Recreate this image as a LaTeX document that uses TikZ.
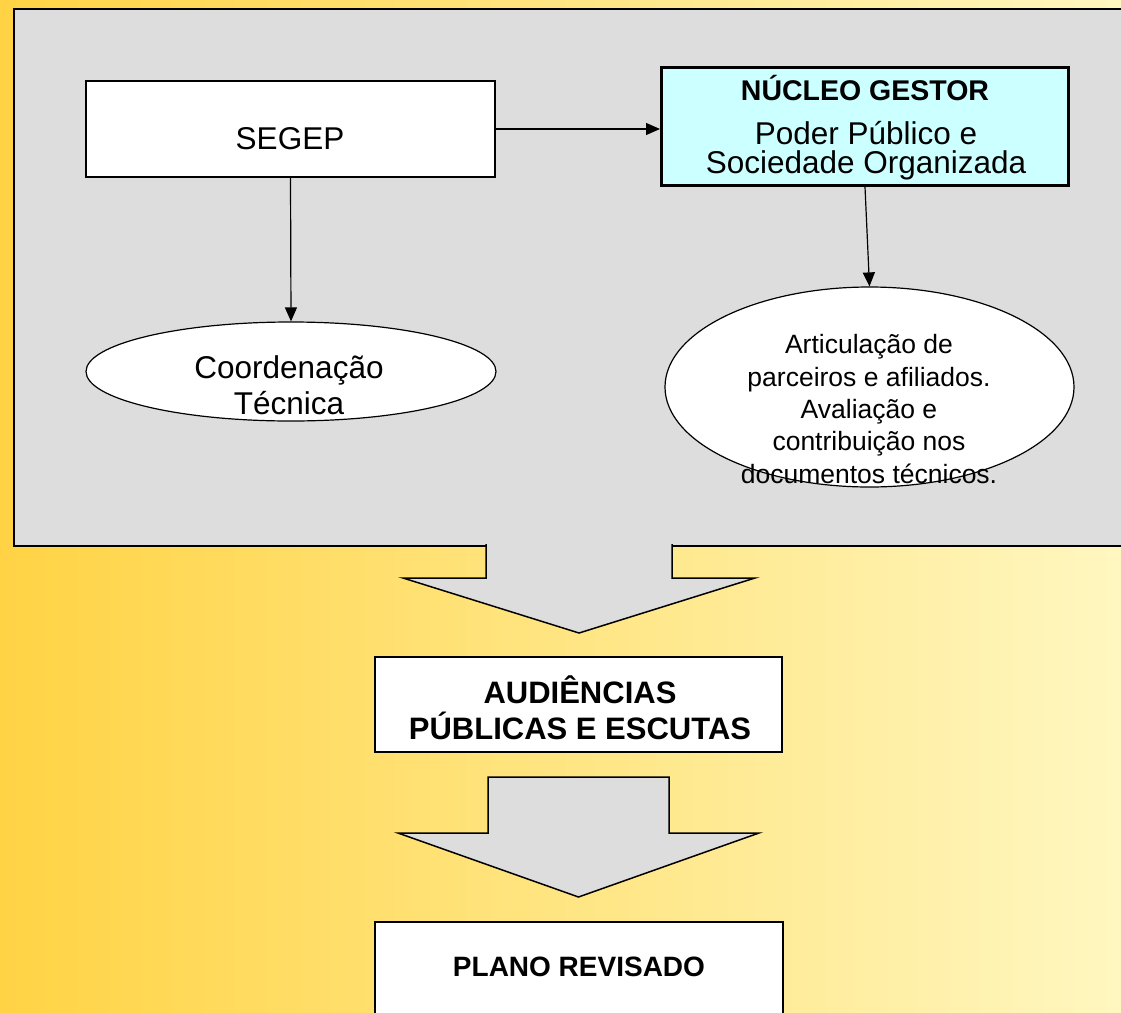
\documentclass[tikz,border=0pt]{standalone}
\usepackage{fontspec}
\setmainfont{Liberation Sans}
\usetikzlibrary{shapes.geometric,arrows.meta}

\definecolor{bgleft}{RGB}{255,211,68}
\definecolor{bgright}{RGB}{255,247,192}
\definecolor{panelgray}{RGB}{221,221,221}
\definecolor{nucleocyan}{RGB}{204,255,255}

\tikzset{
  box/.style={draw,line width=1.2pt,fill=white,rectangle,inner sep=0pt},
  oval/.style={draw,line width=1.2pt,fill=white,ellipse,inner sep=0pt},
  txt/.style={anchor=base,inner sep=0pt,align=center},
  conn/.style={line width=1.2pt,-{Triangle[length=14pt,width=12pt]}},
  bigarrow/.style={fill=panelgray,draw,line width=1.5pt,line join=miter}
}

\begin{document}
\begin{tikzpicture}[x=1pt,y=-1pt]

\useasboundingbox (0,0) rectangle (1121,1012);
\shade[left color=bgleft,right color=bgright] (0,0) rectangle (1121,1012);

% grey panel
\draw[fill=panelgray,line width=1.5pt] (14,9) rectangle (1135,546);

\node[box,minimum width=409pt,minimum height=96pt] (segep) at (290.5,129) {};
\node[box,fill=nucleocyan,line width=3pt,minimum width=407pt,minimum height=118pt] (nucleo) at (865,126.5) {};
\node[oval,minimum width=410pt,minimum height=99pt] (coord) at (291,371.5) {};
\node[oval,minimum width=409pt,minimum height=200pt] (artic) at (869.5,387) {};

% multi-line texts sit on the baseline of their last line
\node[txt,font=\fontsize{31.5}{36}\selectfont] (segeptxt) at (290,149) {SEGEP};
\node[txt,font=\bfseries\fontsize{28.5}{32}\selectfont] (nucleotitle) at (865,100) {NÚCLEO GESTOR};
\node[txt,font=\fontsize{31.5}{29}\selectfont] (nucleotxt) at (866,173.3) {Poder Público e\\Sociedade Organizada};
\node[txt,font=\fontsize{31.5}{35.5}\selectfont] (coordtxt) at (289,414) {Coordenação\\Técnica};
\node[txt,font=\fontsize{26.5}{32.3}\selectfont] (artictxt) at (869,483) {Articulação de\\parceiros e afiliados.\\Avaliação e\\contribuição nos\\documentos técnicos.};

\draw[conn] (segep.east) -- (segep.east -| nucleo.west);
\draw[conn] (segep.south) -- (coord.north);
\draw[conn] (nucleo.south) -- (artic.north);

% big arrows
\filldraw[bigarrow] (486,544) -- (486,578) -- (403,578) -- (579,633) -- (755,578) -- (672,578) -- (672,544);
\filldraw[bigarrow] (488,777) -- (488,833) -- (398,833) -- (578.5,897) -- (759,833) -- (669,833) -- (669,777) -- cycle;

\node[box,minimum width=407pt,minimum height=95pt] (audiencias) at (578.5,704.5) {};
\node[box,minimum width=408pt,minimum height=108pt] (plano) at (579,976) {};

\node[txt,font=\bfseries\fontsize{31}{36}\selectfont] (audtxt) at (580,739) {AUDIÊNCIAS\\PÚBLICAS E ESCUTAS};
\node[txt,font=\bfseries\fontsize{28}{32}\selectfont] (planotxt) at (579,976) {PLANO REVISADO};

\end{tikzpicture}
\end{document}
